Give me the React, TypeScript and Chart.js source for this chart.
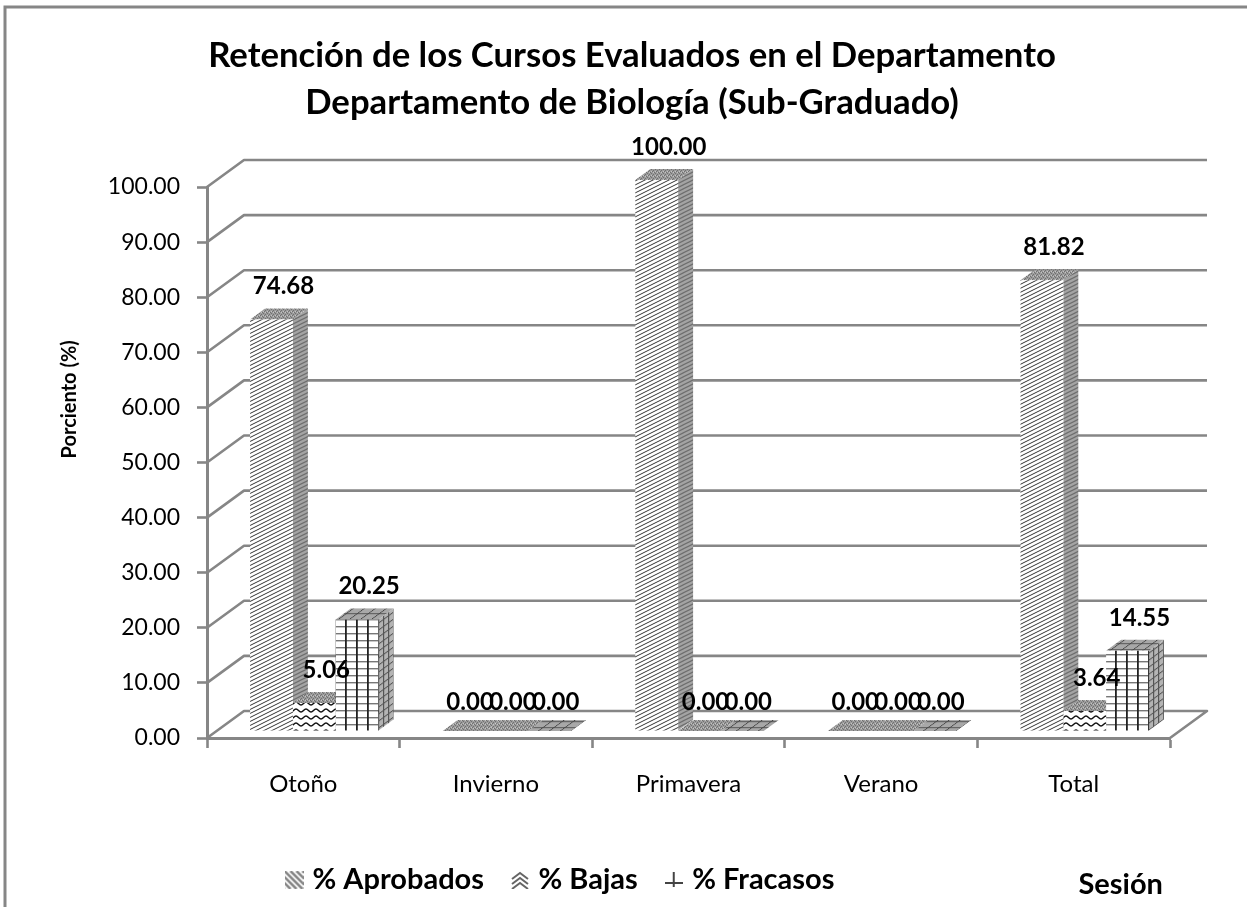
import React, { useEffect, useRef } from "react";
import { Chart, registerables } from "chart.js";

Chart.register(...registerables);

const categories = ["Otoño", "Invierno", "Primavera", "Verano", "Total"];
const aprobados = [74.68, 0, 100, 0, 81.82];
const bajas = [5.06, 0, 0, 0, 3.64];
const fracasos = [20.25, 0, 0, 0, 14.55];
const titleLines = ["Retención de los Cursos Evaluados en el Departamento", "Departamento de Biología (Sub-Graduado)"];

const GRAY = "#868686";
const FONT = "Lato, Carlito, 'Open Sans', sans-serif";
const WALL = { x: 37, y: -27 };
const BAR_SHIFT = { x: 11, y: -7 };
const DEPTH = { x: 15, y: -11 };

function tile(w: number, h: number, draw: (c: CanvasRenderingContext2D) => void) {
  const c = document.createElement("canvas");
  c.width = w;
  c.height = h;
  draw(c.getContext("2d")!);
  return c;
}

function stripes(bg: string, fg: string, lw: number) {
  return tile(8, 4, (c) => {
    c.fillStyle = bg;
    c.fillRect(0, 0, 8, 4);
    c.strokeStyle = fg;
    c.lineWidth = lw;
    for (const o of [-4, 0, 4]) {
      c.beginPath();
      c.moveTo(-2, 5 + o);
      c.lineTo(10, -1 + o);
      c.stroke();
    }
  });
}

function App() {
  const ref = useRef<HTMLCanvasElement>(null);

  useEffect(() => {
    document.body.style.margin = "0";
    const canvas = ref.current!;
    const ctx = canvas.getContext("2d")!;
    const pat = (c: HTMLCanvasElement, m?: number[]) => {
      const p = ctx.createPattern(c, "repeat")!;
      if (m) p.setTransform(new DOMMatrix(m));
      return p;
    };
    const shearTop = [1, 0, DEPTH.x / DEPTH.y, 1, 0, 0];
    const shearSide = [1, DEPTH.y / DEPTH.x, 0, 1, 0, 0];

    const speck = tile(4, 4, (c) => {
      c.fillStyle = "#9c9c9c";
      c.fillRect(0, 0, 4, 4);
      c.fillStyle = "#707070";
      c.fillRect(0, 0, 1, 1);
      c.fillRect(2, 1, 1, 1);
      c.fillRect(1, 2, 1, 1);
      c.fillRect(3, 3, 1, 1);
      c.fillStyle = "#c4c4c4";
      c.fillRect(2, 3, 1, 1);
      c.fillRect(0, 2, 1, 1);
    });

    const frontA = pat(stripes("#ffffff", "#333333", 1.0));
    const sideA = pat(stripes("#a4a4a4", "#6e6e6e", 1.2));
    const topA = pat(speck);

    const frontB = pat(
      tile(10, 7, (c) => {
        c.fillStyle = "#fff";
        c.fillRect(0, 0, 10, 7);
        c.strokeStyle = "#111";
        c.lineWidth = 1.5;
        c.beginPath();
        c.moveTo(0, 5);
        c.bezierCurveTo(2, 5, 3, 2, 5, 2);
        c.bezierCurveTo(7, 2, 8, 5, 10, 5);
        c.stroke();
      })
    );
    const sideB = pat(speck);
    const topB = pat(speck);

    const gridTile = (w: number, h: number, bg: string, v: string, hz: string, vx: number, hy: number, vw = 1.2, hw = 1.2) =>
      tile(w, h, (c) => {
        c.fillStyle = bg;
        c.fillRect(0, 0, w, h);
        c.fillStyle = hz;
        c.fillRect(0, hy, w, hw);
        c.fillStyle = v;
        c.fillRect(vx, 0, vw, h);
      });

    const frontC = pat(gridTile(11, 7, "#ffffff", "#222222", "#777777", 4, 3, 1.8, 1.4));
    const sideC = pat(gridTile(5, 7, "#b4b4b4", "#555555", "#555555", 2, 3), shearSide);
    const topC = pat(gridTile(11, 6, "#a8a8a8", "#444444", "#666666", 4, 2), shearTop);

    const sides = [sideA, sideB, sideC];
    const tops = [topA, topB, topC];

    const keyA = tile(19, 18, (c) => {
      c.strokeStyle = "#888";
      c.lineWidth = 2.6;
      for (let i = -18; i < 20; i += 6) {
        c.beginPath();
        c.moveTo(i, 0);
        c.lineTo(i + 18, 18);
        c.stroke();
      }
    });
    const keyB = tile(18, 18, (c) => {
      c.strokeStyle = "#666";
      c.lineWidth = 2;
      for (const y of [8, 13, 18]) {
        c.beginPath();
        c.moveTo(1, y);
        c.lineTo(9, y - 6);
        c.lineTo(17, y);
        c.stroke();
      }
    });
    const keyC = tile(18, 16, (c) => {
      c.fillStyle = "#444";
      c.fillRect(0, 10, 18, 2);
      c.fillRect(8, 0, 2, 15);
    });
    const keys = [keyA, keyB, keyC];

    const wallPlugin = {
      id: "walls",
      beforeDraw(chart: any) {
        const c = chart.ctx;
        c.save();
        c.strokeStyle = GRAY;
        c.lineWidth = 3;
        c.beginPath();
        c.moveTo(1247, 7);
        c.lineTo(5, 7);
        c.lineTo(5, 907);
        c.stroke();
        c.restore();
      },
      afterLayout(chart: any) {
        chart.titleBlock.left = 17;
        chart.titleBlock.right = 1247;
        const lg = chart.legend;
        lg.left = 290 - lg.options.labels.padding;
        lg.top -= 2.5;
        lg.bottom -= 2.5;
      },
      beforeDatasetsDraw(chart: any) {
        const c = chart.ctx;
        const { left, right, bottom } = chart.chartArea;
        const y = chart.scales.y;
        c.save();
        c.strokeStyle = GRAY;
        c.lineWidth = 2.6;
        c.lineJoin = "round";
        for (const t of y.ticks) {
          const py = y.getPixelForValue(t.value);
          c.beginPath();
          c.moveTo(left, py);
          c.lineTo(left + WALL.x, py + WALL.y);
          c.lineTo(right + WALL.x, py + WALL.y);
          if (t.value === 0) c.lineTo(right, bottom);
          c.stroke();
        }
        c.restore();

        c.save();
        c.translate(BAR_SHIFT.x, BAR_SHIFT.y);
        categories.forEach((_, i) => {
          chart.data.datasets.forEach((__: any, d: number) => {
            const b = chart.getDatasetMeta(d).data[i];
            const l = b.x - b.width / 2;
            const r = b.x + b.width / 2;
            c.fillStyle = sides[d];
            c.beginPath();
            c.moveTo(r, b.y);
            c.lineTo(r + DEPTH.x, b.y + DEPTH.y);
            c.lineTo(r + DEPTH.x, b.base + DEPTH.y);
            c.lineTo(r, b.base);
            c.closePath();
            c.fill();
            c.fillStyle = tops[d];
            c.beginPath();
            c.moveTo(l, b.y);
            c.lineTo(l + DEPTH.x, b.y + DEPTH.y);
            c.lineTo(r + DEPTH.x, b.y + DEPTH.y);
            c.lineTo(r, b.y);
            c.closePath();
            c.fill();
          });
        });
      },
      afterDatasetsDraw(chart: any) {
        const c = chart.ctx;
        c.restore();
        c.save();
        c.font = `bold 24px ${FONT}`;
        c.fillStyle = "#000";
        c.textAlign = "center";
        c.textBaseline = "middle";
        chart.data.datasets.forEach((ds: any, d: number) => {
          chart.getDatasetMeta(d).data.forEach((b: any, i: number) => {
            const v = ds.data[i];
            const zero = v === 0;
            c.fillText(v.toFixed(2), b.x + BAR_SHIFT.x + (zero ? 6 : 12), b.y + BAR_SHIFT.y + (zero ? -29 : -33));
          });
        });
        c.restore();
      },
    };

    const chart = new Chart(canvas, {
      type: "bar",
      data: {
        labels: categories,
        datasets: [
          { label: "% Aprobados", data: aprobados, backgroundColor: frontA as any, borderWidth: 0 },
          { label: "% Bajas", data: bajas, backgroundColor: frontB as any, borderWidth: 0 },
          { label: "% Fracasos", data: fracasos, backgroundColor: frontC as any, borderWidth: 0 },
        ],
      },
      plugins: [wallPlugin as any],
      options: {
        responsive: false,
        animation: false,
        events: [],
        layout: { autoPadding: false, padding: { right: 77 } },
        datasets: { bar: { categoryPercentage: 2 / 3, barPercentage: 1 } },
        plugins: {
          tooltip: { enabled: false },
          title: {
            display: true,
            text: titleLines,
            align: "center",
            color: "#000",
            font: { family: FONT, size: 34.7, weight: "bold", lineHeight: 47 / 34.7 },
            padding: { top: 32.5, bottom: 60.5 },
          },
          legend: {
            position: "bottom",
            align: "start",
            labels: {
              color: "#000",
              font: { family: FONT, size: 29, weight: "bold" },
              padding: 32,
              boxWidth: 8,
              usePointStyle: true,
              generateLabels: (ch: any) =>
                ch.data.datasets.map((d: any, i: number) => ({
                  text: d.label,
                  fillStyle: "#777",
                  strokeStyle: "#777",
                  lineWidth: 0,
                  pointStyle: keys[i],
                  hidden: false,
                  datasetIndex: i,
                  fontColor: "#000",
                })),
            },
          },
        },
        scales: {
          x: {
            afterFit: (s: any) => {
              s.height = 98;
            },
            border: { color: GRAY, width: 3 },
            grid: { drawOnChartArea: false, tickLength: 10, tickColor: GRAY, tickWidth: 2.6 },
            ticks: {
              color: "#000",
              padding: 22,
              maxRotation: 0,
              autoSkip: false,
              font: { family: FONT, size: 24 },
            },
            title: {
              display: true,
              text: "Sesión ",
              align: "end",
              color: "#000",
              font: { family: FONT, size: 29, weight: "bold" },
              padding: { top: 0, bottom: -66.5 },
            },
          },
          y: {
            min: 0,
            max: 100,
            afterFit: (s: any) => {
              s.width = 207;
            },
            border: { color: GRAY, width: 3 },
            grid: { drawOnChartArea: false, tickLength: 10, tickColor: GRAY, tickWidth: 2.6 },
            ticks: {
              stepSize: 10,
              color: "#000",
              padding: 17,
              font: { family: FONT, size: 23 },
              callback: (v: any) => Number(v).toFixed(2),
            },
            title: {
              display: true,
              text: " ".repeat(26) + "Porciento (%)",
              color: "#000",
              font: { family: FONT, size: 20, weight: "bold" },
              padding: { top: 58, bottom: 0 },
            },
          },
        },
      } as any,
    });
    return () => chart.destroy();
  }, []);

  return (
    <canvas
      ref={ref}
      width={1247}
      height={907}
      style={{ position: "absolute", left: 0, top: 0, width: 1247, height: 907, display: "block" }}
    />
  );
}

export default App;
